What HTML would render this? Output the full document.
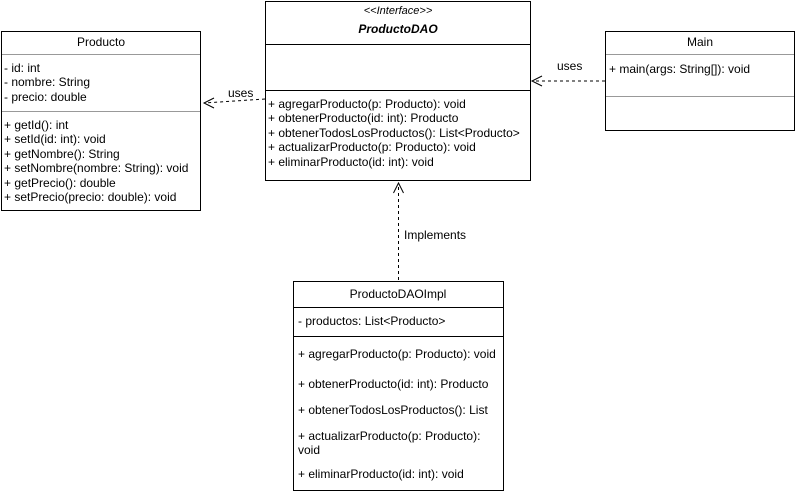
<!DOCTYPE html>
<html><head><style>body{margin:0;background:#fff}svg{display:block}text{font-family:"Liberation Sans",sans-serif;font-size:12px;fill:#000}</style></head>
<body>
<svg width="796" height="492" viewBox="0 0 796 492">
<g fill="#fff" stroke="#000" stroke-width="1">
<rect x="1.5" y="31.5" width="199" height="179"/>
<rect x="265.5" y="1.5" width="265" height="179"/>
<rect x="605.5" y="31.5" width="189" height="99"/>
<rect x="293.5" y="281.5" width="210" height="209"/>
</g>
<g stroke="#999" stroke-width="1">
<line x1="2" y1="54.5" x2="200" y2="54.5"/>
<line x1="2" y1="111.5" x2="200" y2="111.5"/>
<line x1="606" y1="54.5" x2="794" y2="54.5"/>
<line x1="606" y1="96.5" x2="794" y2="96.5"/>
</g>
<g stroke="#000" stroke-width="1">
<line x1="266" y1="44.5" x2="530" y2="44.5"/>
<line x1="266" y1="90.5" x2="530" y2="90.5"/>
<line x1="294" y1="307.5" x2="503" y2="307.5"/>
<line x1="294" y1="336.5" x2="503" y2="336.5"/>
</g>
<g fill="none" stroke="#000" stroke-width="1" stroke-dasharray="3,3">
<line x1="265" y1="99" x2="204" y2="103"/>
<line x1="605" y1="81" x2="532" y2="81"/>
<line x1="398.5" y1="280" x2="398.5" y2="183"/>
</g>
<g fill="none" stroke="#000" stroke-width="1">
<polyline points="214,98 204,103 214,108"/>
<polyline points="542,76 532,81 542,86"/>
<polyline points="393.5,193 398.5,183 403.5,193"/>
</g>
<text x="101" y="46" text-anchor="middle">Producto</text>
<text x="4" y="72">- id: int</text>
<text x="4" y="86">- nombre: String</text>
<text x="4" y="101">- precio: double</text>
<text x="4" y="129">+ getId(): int</text>
<text x="4" y="143">+ setId(id: int): void</text>
<text x="4" y="158">+ getNombre(): String</text>
<text x="4" y="172">+ setNombre(nombre: String): void</text>
<text x="4" y="187">+ getPrecio(): double</text>
<text x="4" y="201">+ setPrecio(precio: double): void</text>
<text x="398" y="14" text-anchor="middle" font-style="italic" style="font-size:11px">&lt;&lt;Interface&gt;&gt;</text>
<text x="398" y="33" text-anchor="middle" font-style="italic" font-weight="bold">ProductoDAO</text>
<text x="268" y="108">+ agregarProducto(p: Producto): void</text>
<text x="268" y="122">+ obtenerProducto(id: int): Producto</text>
<text x="268" y="137">+ obtenerTodosLosProductos(): List&lt;Producto&gt;</text>
<text x="268" y="151">+ actualizarProducto(p: Producto): void</text>
<text x="268" y="166">+ eliminarProducto(id: int): void</text>
<text x="700" y="46" text-anchor="middle">Main</text>
<text x="609" y="73">+ main(args: String[]): void</text>
<text x="398" y="298" text-anchor="middle">ProductoDAOImpl</text>
<text x="298" y="325">- productos: List&lt;Producto&gt;</text>
<text x="298" y="358">+ agregarProducto(p: Producto): void</text>
<text x="298" y="388">+ obtenerProducto(id: int): Producto</text>
<text x="298" y="414">+ obtenerTodosLosProductos(): List</text>
<text x="298" y="440">+ actualizarProducto(p: Producto):</text>
<text x="298" y="454">void</text>
<text x="298" y="478">+ eliminarProducto(id: int): void</text>
<text x="228" y="97">uses</text>
<text x="557" y="70">uses</text>
<text x="404" y="239">Implements</text>
</svg>
</body></html>
